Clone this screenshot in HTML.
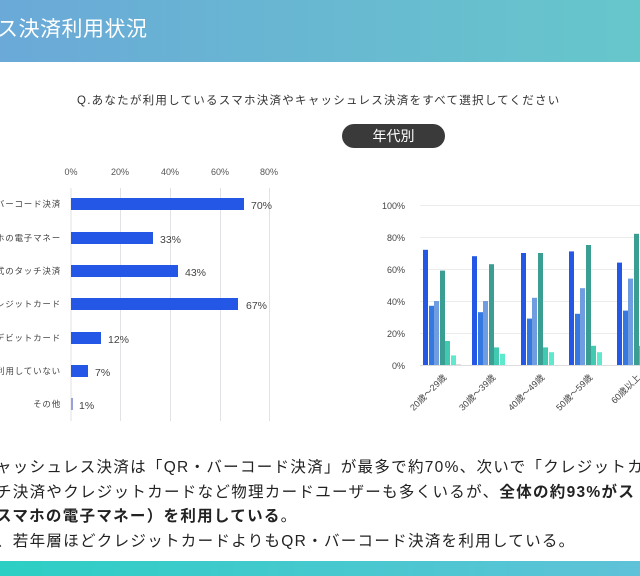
<!DOCTYPE html>
<html><head><meta charset="utf-8"><style>
html,body{margin:0;padding:0;background:#fff;}
body{width:640px;height:576px;overflow:hidden;position:relative;font-family:"Liberation Sans","Noto Sans CJK JP",sans-serif;}
svg{position:absolute;left:0;top:0;}
text{font-family:"Liberation Sans","Noto Sans CJK JP",sans-serif;}
</style></head><body>
<svg width="640" height="576" viewBox="0 0 640 576">
<defs>
<linearGradient id="hg" x1="0" x2="1" y1="0" y2="0"><stop offset="0" stop-color="#6aa9d8"/><stop offset="1" stop-color="#66c7cb"/></linearGradient>
<linearGradient id="bg" x1="0" x2="1" y1="0" y2="0"><stop offset="0" stop-color="#2ccfc4"/><stop offset="1" stop-color="#5fc2d8"/></linearGradient>
</defs>
<rect x="0" y="0" width="640" height="62" fill="url(#hg)"/>
<text x="-3" y="36" font-size="21" fill="#fff" letter-spacing="0.5">ス決済利用状況</text>
<text x="77" y="104" font-size="11.5" fill="#333" letter-spacing="1.25">Q.あなたが利用しているスマホ決済やキャッシュレス決済をすべて選択してください</text>
<rect x="342" y="124" width="103" height="24" rx="12" fill="#3a3a3a"/>
<text x="393.5" y="141" font-size="14" fill="#fff" text-anchor="middle">年代別</text>

<g stroke="#e2e2e6" stroke-width="1">
<line x1="71" y1="188" x2="71" y2="421"/><line x1="120.5" y1="188" x2="120.5" y2="421"/><line x1="170.5" y1="188" x2="170.5" y2="421"/><line x1="220.5" y1="188" x2="220.5" y2="421"/><line x1="269.5" y1="188" x2="269.5" y2="421"/>
</g>
<g font-size="9" fill="#555" text-anchor="middle">
<text x="71" y="175">0%</text><text x="120" y="175">20%</text><text x="170" y="175">40%</text><text x="220" y="175">60%</text><text x="269" y="175">80%</text>
</g>
<g fill="#2457e6">
<rect x="71" y="198" width="173" height="12"/>
<rect x="71" y="232" width="82" height="12"/>
<rect x="71" y="265" width="107" height="12"/>
<rect x="71" y="298" width="167" height="12"/>
<rect x="71" y="332" width="30" height="12"/>
<rect x="71" y="365" width="17" height="12"/>
<rect x="71" y="398" width="2" height="12" fill="#9aa0d8"/>
</g>
<g font-size="10.5" fill="#444">
<text x="251" y="209">70%</text><text x="160" y="243">33%</text><text x="185" y="276">43%</text><text x="246" y="309">67%</text><text x="108" y="343">12%</text><text x="95" y="376">7%</text><text x="79" y="409">1%</text>
</g>
<g font-size="8.5" fill="#444" text-anchor="end" letter-spacing="0.8">
<text x="61" y="207">・バーコード決済</text><text x="61" y="241">スマホの電子マネー</text><text x="61" y="274">方式のタッチ決済</text><text x="61" y="307">クレジットカード</text><text x="61" y="341">デビットカード</text><text x="61" y="374">利用していない</text><text x="61" y="407">その他</text>
</g>

<g stroke="#ececec" stroke-width="1">
<line x1="420" y1="205.5" x2="640" y2="205.5"/><line x1="420" y1="237.5" x2="640" y2="237.5"/><line x1="420" y1="269.5" x2="640" y2="269.5"/><line x1="420" y1="301.5" x2="640" y2="301.5"/><line x1="420" y1="333.5" x2="640" y2="333.5"/>
</g>
<line x1="420" y1="365.5" x2="640" y2="365.5" stroke="#ddd"/>
<g font-size="9" fill="#444" text-anchor="end">
<text x="405" y="209">100%</text><text x="405" y="241">80%</text><text x="405" y="273">60%</text><text x="405" y="305">40%</text><text x="405" y="337">20%</text><text x="405" y="369">0%</text>
</g>
<g id="bars"></g>
<g font-size="9" fill="#444" text-anchor="end">
<text transform="translate(447,378) rotate(-45)">20歳～29歳</text>
<text transform="translate(496,378) rotate(-45)">30歳～39歳</text>
<text transform="translate(545,378) rotate(-45)">40歳～49歳</text>
<text transform="translate(593,378) rotate(-45)">50歳～59歳</text>
<text transform="translate(641,378) rotate(-45)">60歳以上</text>
</g>

<g font-size="15.5" fill="#222" letter-spacing="1.3">
<text x="-4" y="472">ャッシュレス決済は「QR・バーコード決済」が最多で約70%、次いで「クレジットカ</text>
<text x="-4" y="497">チ決済やクレジットカードなど物理カードユーザーも多くいるが、<tspan font-weight="bold">全体の約93%がス</tspan></text>
<text x="-4" y="521" font-weight="bold">スマホの電子マネー）を利用している<tspan font-weight="normal">。</tspan></text>
<text x="-4" y="546">、若年層ほどクレジットカードよりもQR・バーコード決済を利用している。</text>
</g>
<rect x="0" y="561" width="640" height="15" fill="url(#bg)"/>
</svg>
<script>
var cols=["#2457e6","#3478e0","#6f9de0","#3a9f92","#42c9b2","#5ee8cc","#ddd"];
var data=[[72,37,40,59,15,6,0.6],[68,33,40,63,11,7,0],[70,29,42,70,11,8,0],[71,32,48,75,12,8,0],[64,34,54,82,12,8,0]];
var xs=[423,472,521,569,617],offs=[0,6,11,17,22,28,33];
var g=document.getElementById("bars"),ns="http://www.w3.org/2000/svg";
data.forEach(function(d,i){d.forEach(function(v,j){if(!v)return;var r=document.createElementNS(ns,"rect");var h=v*1.6;r.setAttribute("x",xs[i]+offs[j]);r.setAttribute("y",365-h);r.setAttribute("width",5);r.setAttribute("height",h);r.setAttribute("fill",cols[j]);g.appendChild(r);});});
</script>
</body></html>
